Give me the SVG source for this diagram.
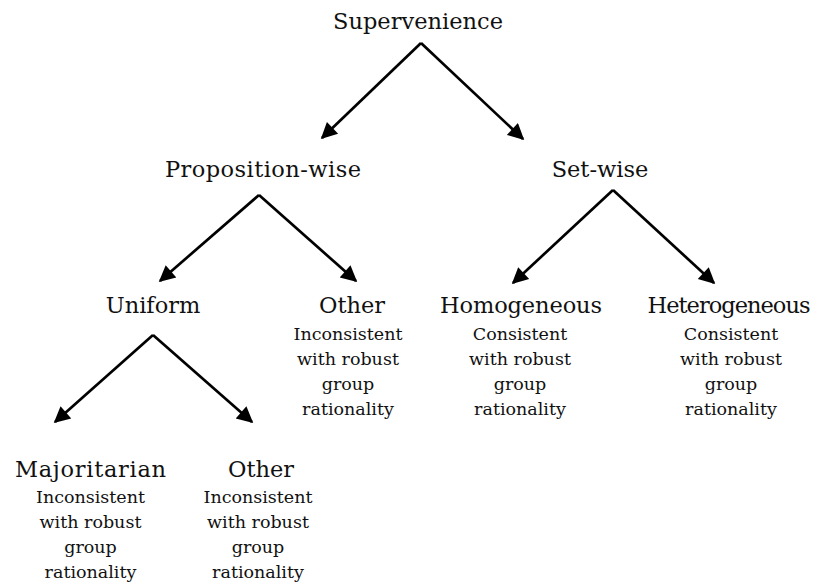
<svg xmlns="http://www.w3.org/2000/svg" width="816" height="582" viewBox="0 0 816 582">
<defs>
<marker id="ah" viewBox="0 0 10 10" refX="9" refY="5" markerWidth="7" markerHeight="6" markerUnits="strokeWidth" orient="auto">
<path d="M0,0 L10,5 L0,10 z" fill="#000"/>
</marker>
</defs>
<style>
.h{font-family:"DejaVu Serif","Liberation Serif",serif;font-size:22.5px;text-anchor:middle;fill:#111}
.s{font-family:"DejaVu Serif","Liberation Serif",serif;font-size:17.5px;text-anchor:middle;fill:#111}
.c{fill:none;stroke:#000;stroke-width:2.7;marker-end:url(#ah)}
</style>
<rect width="816" height="582" fill="#fff"/>
<g id="connectors">
<path class="c" d="M421,43 L322,138"/>
<path class="c" d="M421,43 L523,139"/>
<path class="c" d="M259,195 L160,281"/>
<path class="c" d="M259,195 L356,281"/>
<path class="c" d="M613,190 L513,283"/>
<path class="c" d="M613,190 L714,283"/>
<path class="c" d="M153,335 L55,422"/>
<path class="c" d="M153,335 L252,422"/>
</g>
<g id="supervenience"><text class="h" x="418" y="29" textLength="170" lengthAdjust="spacing">Supervenience</text></g>
<g id="proposition-wise"><text class="h" x="263" y="177" textLength="196" lengthAdjust="spacing">Proposition-wise</text></g>
<g id="set-wise"><text class="h" x="600" y="177">Set-wise</text></g>
<g id="uniform"><text class="h" x="153" y="313">Uniform</text></g>
<g id="other1"><text class="h" x="352" y="313">Other</text>
<text class="s" x="348" y="339.5">Inconsistent</text><text class="s" x="348" y="364.5">with robust</text><text class="s" x="348" y="390">group</text><text class="s" x="348" y="415">rationality</text></g>
<g id="homogeneous"><text class="h" x="521" y="313" textLength="162" lengthAdjust="spacing">Homogeneous</text>
<text class="s" x="520" y="339.5">Consistent</text><text class="s" x="520" y="364.5">with robust</text><text class="s" x="520" y="390">group</text><text class="s" x="520" y="415">rationality</text></g>
<g id="heterogeneous"><text class="h" x="729" y="313" textLength="163" lengthAdjust="spacing">Heterogeneous</text>
<text class="s" x="731" y="339.5">Consistent</text><text class="s" x="731" y="364.5">with robust</text><text class="s" x="731" y="390">group</text><text class="s" x="731" y="415">rationality</text></g>
<g id="majoritarian"><text class="h" x="90.5" y="476.5" textLength="151" lengthAdjust="spacing">Majoritarian</text>
<text class="s" x="90.5" y="503">Inconsistent</text><text class="s" x="90.5" y="528">with robust</text><text class="s" x="90.5" y="553">group</text><text class="s" x="90.5" y="578">rationality</text></g>
<g id="other2"><text class="h" x="261" y="476.5">Other</text>
<text class="s" x="258" y="503">Inconsistent</text><text class="s" x="258" y="528">with robust</text><text class="s" x="258" y="553">group</text><text class="s" x="258" y="578">rationality</text></g>
</svg>
